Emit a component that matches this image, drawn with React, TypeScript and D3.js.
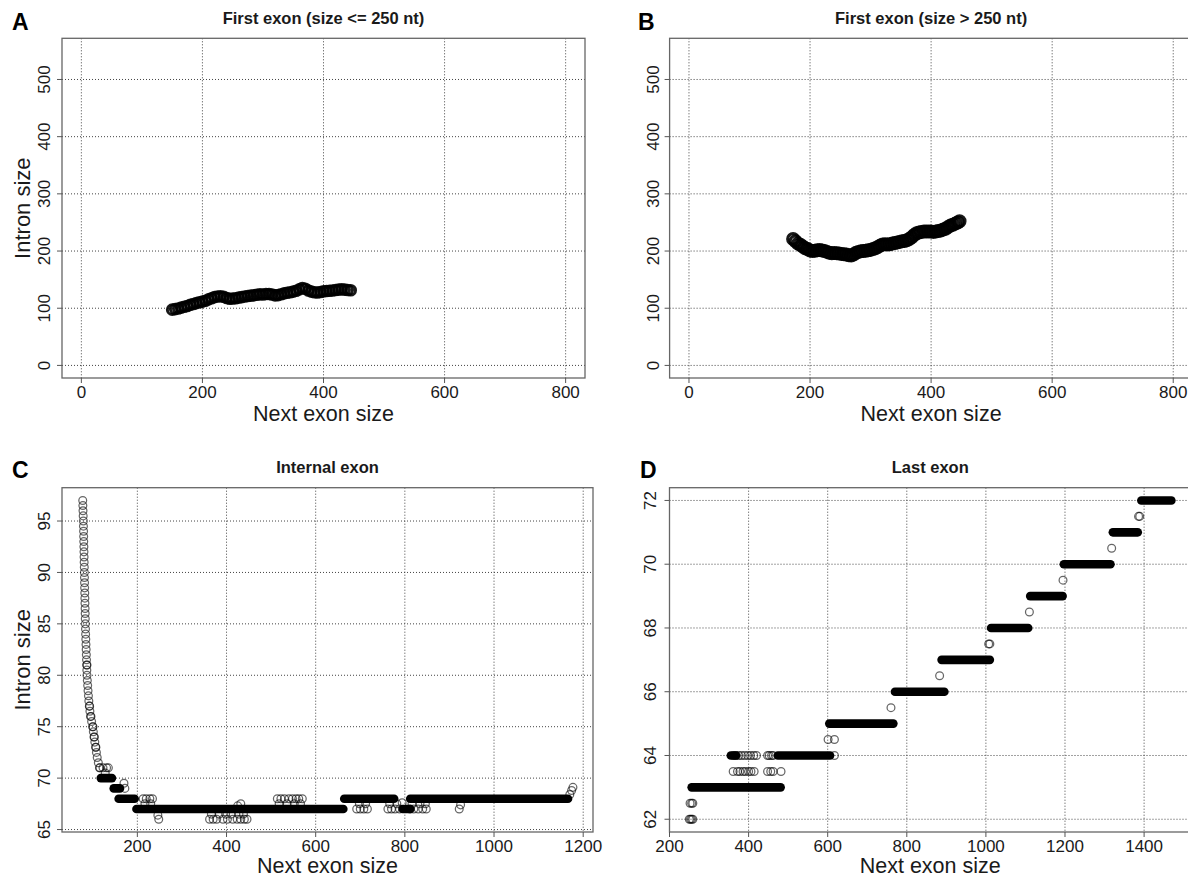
import React from "react";
import * as d3 from "d3";

// ---------- Panel A: First exon (size <= 250 nt) ----------
const A_NEXT = [150,155,160,165,170,175,180,185,190,195,200,205,210,215,220,225,230,235,240,245,250,255,260,265,270,275,280,285,290,295,300,305,310,315,320,325,330,335,340,345,350,355,360,365,370,375,380,385,390,395,400,405,410,415,420,425,430,435,440,445];
const A_INTRON = [97.5,98.5,99.5,101,102.5,104,106,107.5,109,110.5,111.5,113,115.5,117.5,119.5,120.5,121,120,118,116.5,117,117.5,118.5,119.5,120.5,121.5,122,122.5,123.5,124.5,124,125,125,124,122.5,123,124.5,126,127,128,129,130.5,133,135.5,134,131,129,128,127.5,128.5,129.5,130,130.5,131,132,132.5,133,132.5,132,131.5];

// ---------- Panel B: First exon (size > 250 nt) ----------
const B_NEXT = [172,176,180,184,188,192,196,200,204,208,212,216,220,224,228,232,236,240,244,248,252,256,260,264,268,272,276,280,284,288,292,296,300,304,308,312,316,320,324,328,332,336,340,344,348,352,356,360,364,368,372,376,380,384,388,392,396,400,404,408,412,416,420,424,428,432,436,440,444,447];
const B_INTRON = [221,217,213,211,208,205,203.5,201,200,200.5,201.5,202,201,200,198.5,197,196,196.5,196,195.5,195,194.5,194,192.5,192,194,197,198.5,199.5,200,200.5,201.5,202,203.5,205,207,209.5,211.5,212,211.5,212,213,214,215,216,217,217.5,219,221,224,228,231,232.5,233.5,234,234,234,234,233.5,234,235,236,237.5,239,242,244.5,246,248,250,252];

// ---------- Panel C: Internal exon ----------
const C_POINT_NEXT = [
  77.5,77.8,78.1,78.5,78.9,79.1,79.4,79.6,79.8,80.1,80.3,80.5,80.7,81,81.2,81.4,81.6,81.8,82.1,82.3,82.5,82.8,83,83.2,83.4,83.7,84,84.4,84.8,85.2,85.6,86,86.4,86.7,87,87.8,88.6,89.4,90.3,91.2,92.3,93.6,95,97.4,99.8,101.3,102.8,104.6,106.5,108.2,110,112.5,115,
  87,93,96,100.5,103.5,107,
  116,123,131,135,128,170,172,
  213,220,228,234,217,230,248,246,
  362,370,378,392,402,414,424,432,440,446,366,384,398,410,428,438,425,432,
  514,522,530,540,548,556,562,570,518,536,552,566,
  692,700,708,716,698,712,
  762,770,778,788,766,782,794,
  812,820,830,840,848,816,834,846,
  922,925,1170,1174,1177
];
const C_POINT_INTRON = [
  97,96.5,96,95.5,95,94.5,94,93.5,93,92.5,92,91.5,91,90.5,90,89.5,89,88.5,88,87.5,87,86.5,86,85.5,85,84.5,84,83.5,83,82.5,82,81.5,81,80.5,80,79.5,79,78.5,78,77.5,77,76.5,76,75.5,75,74.5,74,73.5,73,72.5,72,71.5,71,
  81,77,76,75,74,73,
  71,71,71,71,70.5,69.5,69,
  68,68,68,68,67.5,67.5,66,66.4,
  66,66,66,66,66,66,66,66,66,66,66.5,66.5,66.5,66.5,66.5,66.5,67.3,67.5,
  68,68,68,68,68,68,68,68,67.5,67.5,67.5,67.5,
  67,67,67,67,67.5,67.5,
  67,67,67,67,67.5,67.5,67.6,
  67,67,67,67,67,67.5,67.5,67.5,
  67,67.4,68.4,68.8,69.1
];
// dense runs of overlapping points: intron value, first and last next-exon size
const C_RUN_INTRON = [70, 69, 68, 67, 68, 67, 68];
const C_RUN_START = [118, 147, 158, 198, 664, 795, 812];
const C_RUN_END = [143, 161, 194, 662, 776, 812, 1166];

// ---------- Panel D: Last exon ----------
const D_POINT_NEXT = [250,253,256,259,252,256,259,
  362,368,375,382,390,398,405,413,420,448,452,458,462,
  361,372,378,386,392,400,406,414,448,456,462,482,
  617,601,617,760,883,1007,1010,1110,1195,1318,1386,1389];
const D_POINT_INTRON = [62,62,62,62,62.5,62.5,62.5,
  64,64,64,64,64,64,64,64,64,64,64,64,64,
  63.5,63.5,63.5,63.5,63.5,63.5,63.5,63.5,63.5,63.5,63.5,63.5,
  64,64.5,64.5,65.5,66.5,67.5,67.5,68.5,69.5,70.5,71.5,71.5];
const D_RUN_INTRON = [63, 64, 64, 65, 66, 67, 68, 69, 70, 71, 72];
const D_RUN_START = [256, 355, 474, 604, 770, 888, 1013, 1112, 1197, 1321, 1393];
const D_RUN_END = [481, 368, 606, 766, 895, 1010, 1107, 1194, 1315, 1384, 1469];

// ---------- ticks ----------
const AB_X_TICKS = [0, 200, 400, 600, 800];
const AB_Y_TICKS = [0, 100, 200, 300, 400, 500];
const C_X_TICKS = [200, 400, 600, 800, 1000, 1200];
const C_Y_TICKS = [65, 70, 75, 80, 85, 90, 95];
const D_X_TICKS = [200, 400, 600, 800, 1000, 1200, 1400];
const D_Y_TICKS = [62, 64, 66, 68, 70, 72];

const FONT = "'Liberation Sans', Arial, Helvetica, sans-serif";

type Box = { l: number; r: number; t: number; b: number };

type PanelProps = {
  box: Box;
  xDom: [number, number];
  yDom: [number, number];
  xTicks: number[];
  yTicks: number[];
  title: string;
  titleY: number;
  letter: string;
  letterX: number;
  letterY: number;
  yLabel: boolean;
  xLabelY: number;
  yTickOff: number;
  px: number[];
  py: number[];
  pointStyle: { r: number; sw: number; op: number };
  runY?: number[];
  runA?: number[];
  runB?: number[];
  id: string;
};

function Panel(p: PanelProps) {
  const x = d3.scaleLinear().domain(p.xDom).range([p.box.l, p.box.r]);
  const y = d3.scaleLinear().domain(p.yDom).range([p.box.b, p.box.t]);
  const cx = (p.box.l + p.box.r) / 2;
  const cy = (p.box.t + p.box.b) / 2;
  const grid = "#444";
  return (
    <g>
      <defs>
        <clipPath id={`clip-${p.id}`}>
          <rect x={p.box.l} y={p.box.t} width={p.box.r - p.box.l} height={p.box.b - p.box.t} />
        </clipPath>
      </defs>
      {/* grid */}
      <g stroke={grid} strokeWidth={1} strokeDasharray="1 2" clipPath={`url(#clip-${p.id})`}>
        {p.xTicks.map((t) => (
          <line key={`gx${t}`} x1={x(t)} x2={x(t)} y1={p.box.t} y2={p.box.b} />
        ))}
        {p.yTicks.map((t) => (
          <line key={`gy${t}`} x1={p.box.l} x2={p.box.r} y1={y(t)} y2={y(t)} />
        ))}
      </g>
      {/* data */}
      <g clipPath={`url(#clip-${p.id})`}>
        {p.runY &&
          p.runY.map((v, i) => (
            <line
              key={`run${i}`}
              x1={x(p.runA![i])}
              x2={x(p.runB![i])}
              y1={y(v)}
              y2={y(v)}
              stroke="#000"
              strokeWidth={8.6}
              strokeLinecap="round"
            />
          ))}
        {p.px.map((v, i) => (
          <circle
            key={`pt${i}`}
            cx={x(v)}
            cy={y(p.py[i])}
            r={p.pointStyle.r}
            fill="none"
            stroke="#000"
            strokeOpacity={p.pointStyle.op}
            strokeWidth={p.pointStyle.sw}
          />
        ))}
      </g>
      {/* box */}
      <rect
        x={p.box.l}
        y={p.box.t}
        width={p.box.r - p.box.l}
        height={p.box.b - p.box.t}
        fill="none"
        stroke="#666"
        strokeWidth={1.3}
      />
      {/* ticks */}
      <g stroke="#555" strokeWidth={1}>
        {p.xTicks.map((t) => (
          <line key={`tx${t}`} x1={x(t)} x2={x(t)} y1={p.box.b} y2={p.box.b + 5} />
        ))}
        {p.yTicks.map((t) => (
          <line key={`ty${t}`} x1={p.box.l - 5} x2={p.box.l} y1={y(t)} y2={y(t)} />
        ))}
      </g>
      <g fontFamily={FONT} fontSize={17} fill="#1a1a1a">
        {p.xTicks.map((t) => (
          <text key={`lx${t}`} x={x(t)} y={p.box.b + 19.5} textAnchor="middle">
            {t}
          </text>
        ))}
        {p.yTicks.map((t) => (
          <text
            key={`ly${t}`}
            transform={`translate(${p.box.l - p.yTickOff},${y(t)}) rotate(-90)`}
            textAnchor="middle"
          >
            {t}
          </text>
        ))}
      </g>
      <text x={cx} y={p.xLabelY} textAnchor="middle" fontFamily={FONT} fontSize={21.5} fill="#1a1a1a">
        Next exon size
      </text>
      {p.yLabel && (
        <text
          transform={`translate(30,${cy}) rotate(-90)`}
          textAnchor="middle"
          fontFamily={FONT}
          fontSize={22}
          fill="#1a1a1a"
        >
          Intron size
        </text>
      )}
      <text x={cx} y={p.titleY} textAnchor="middle" fontFamily={FONT} fontSize={16.5} fontWeight="bold" fill="#1a1a1a">
        {p.title}
      </text>
      <text x={p.letterX} y={p.letterY} fontFamily={FONT} fontSize={23} fontWeight="bold" fill="#000">
        {p.letter}
      </text>
    </g>
  );
}

export default function App() {
  const worm = { r: 4.8, sw: 3, op: 0.9 };
  const wormB = { r: 5.4, sw: 3.2, op: 0.9 };
  const ring = { r: 3.9, sw: 1.25, op: 0.6 };
  return (
    <svg
      width={1188}
      height={878}
      style={{ position: "absolute", left: 0, top: 0, display: "block" }}
      xmlns="http://www.w3.org/2000/svg"
    >
      <rect x={0} y={0} width={1188} height={878} fill="#fff" />
      <Panel
        id="A"
        box={{ l: 62, r: 585, t: 38.3, b: 378 }}
        xDom={[-32, 832]}
        yDom={[-22, 572]}
        xTicks={AB_X_TICKS}
        yTicks={AB_Y_TICKS}
        title="First exon (size <= 250 nt)"
        titleY={24}
        letter="A"
        letterX={12}
        letterY={30}
        yLabel={true}
        xLabelY={421}
        yTickOff={12}
        px={A_NEXT}
        py={A_INTRON}
        pointStyle={worm}
      />
      <Panel
        id="B"
        box={{ l: 669.6, r: 1192.6, t: 38.3, b: 378 }}
        xDom={[-32, 832]}
        yDom={[-22, 572]}
        xTicks={AB_X_TICKS}
        yTicks={AB_Y_TICKS}
        title="First exon (size > 250 nt)"
        titleY={24}
        letter="B"
        letterX={638}
        letterY={30}
        yLabel={false}
        xLabelY={421}
        yTickOff={11}
        px={B_NEXT}
        py={B_INTRON}
        pointStyle={wormB}
      />
      <Panel
        id="C"
        box={{ l: 62, r: 593, t: 487.7, b: 832 }}
        xDom={[31, 1222]}
        yDom={[64.76, 98.24]}
        xTicks={C_X_TICKS}
        yTicks={C_Y_TICKS}
        title="Internal exon"
        titleY={472.5}
        letter="C"
        letterX={12}
        letterY={478}
        yLabel={true}
        xLabelY={873}
        yTickOff={12}
        px={C_POINT_NEXT}
        py={C_POINT_INTRON}
        pointStyle={ring}
        runY={C_RUN_INTRON}
        runA={C_RUN_START}
        runB={C_RUN_END}
      />
      <Panel
        id="D"
        box={{ l: 669.5, r: 1191, t: 487.7, b: 832 }}
        xDom={[200, 1518.6]}
        yDom={[61.6, 72.4]}
        xTicks={D_X_TICKS}
        yTicks={D_Y_TICKS}
        title="Last exon"
        titleY={472.5}
        letter="D"
        letterX={640}
        letterY={478}
        yLabel={false}
        xLabelY={873}
        yTickOff={14}
        px={D_POINT_NEXT}
        py={D_POINT_INTRON}
        pointStyle={ring}
        runY={D_RUN_INTRON}
        runA={D_RUN_START}
        runB={D_RUN_END}
      />
    </svg>
  );
}
